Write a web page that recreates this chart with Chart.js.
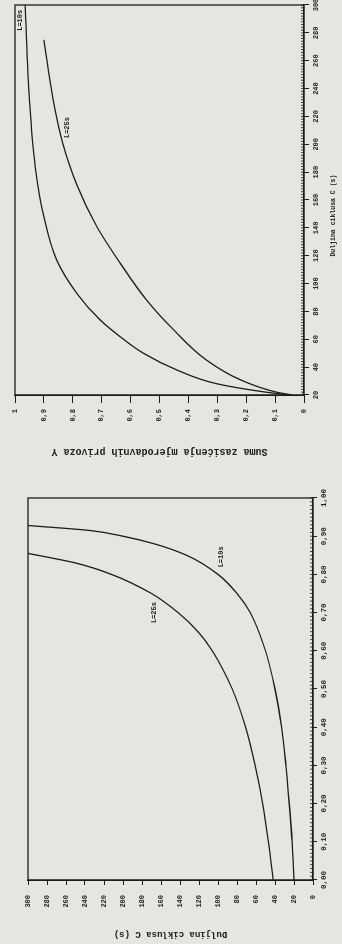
<!DOCTYPE html>
<html>
<head>
<meta charset="utf-8">
<script src="https://cdn.jsdelivr.net/npm/chart.js@4"></script>
<style>
  body { margin: 0; background: #e5e5e2; width: 342px; height: 944px; overflow: hidden; position: relative; }
  .rot { position: absolute; left: 0; transform-origin: 0 0; }
  #boxTop { top: 0; width: 465px; height: 342px; transform: translate(0, 465px) rotate(-90deg); }
  #boxBottom { top: 470px; width: 474px; height: 342px; transform: translate(0, 474px) rotate(-90deg); }
</style>
</head>
<body>
<div class="rot" id="boxTop"><canvas id="chartTop" width="465" height="342"></canvas></div>
<div class="rot" id="boxBottom"><canvas id="chartBottom" width="474" height="342"></canvas></div>
<script>
// gornji dijagram: Y ovisno o C
const topCycle10 = [20, 22, 28, 38, 50, 62, 74, 93, 117, 148, 184, 232, 300];
const topSat10 = [0.05, 0.13, 0.30, 0.44, 0.556, 0.637, 0.706, 0.786, 0.856, 0.900, 0.930, 0.950, 0.965];
const topCycle25 = [20, 22, 31, 45, 67, 88, 115, 141, 170, 201, 232, 275];
const topSat25 = [0.04, 0.094, 0.221, 0.337, 0.452, 0.544, 0.637, 0.717, 0.784, 0.835, 0.868, 0.900];

// donji dijagram: C ovisno o Y
const bottomSat10 = [0, 0.1, 0.2, 0.3, 0.4, 0.5, 0.6, 0.7, 0.75, 0.8, 0.85, 0.88, 0.9, 0.915, 0.928];
const bottomCycle10 = [20, 22, 25, 28.5, 33, 40, 50, 66, 80, 100, 133, 167, 200, 235, 300];
const bottomSat25 = [0, 0.1, 0.2, 0.3, 0.4, 0.5, 0.6, 0.65, 0.7, 0.75, 0.8, 0.83, 0.855];
const bottomCycle25 = [42, 47, 53, 61, 71, 85, 106, 121, 142, 170, 212, 250, 300];

const curveNames = ['L=10s', 'L=25s'];

const ink = '#1c1c1c';
const mono = '"Liberation Mono", "DejaVu Sans Mono", monospace';

function points(xs, ys) {
  return xs.map((x, i) => ({ x, y: ys[i] }));
}

function curve(label, data) {
  return {
    label, data,
    borderColor: ink, borderWidth: 1.3,
    pointRadius: 0, cubicInterpolationMode: 'monotone', fill: false
  };
}

function comma(v, digits) {
  return v.toFixed(digits).replace('.', ',');
}

// okvir, sitne crtice na osi x i oznake krivulja
const paperPlugin = {
  id: 'paper',
  afterDraw(chart, args, opts) {
    const { ctx, chartArea: a, scales } = chart;
    const sx = scales.x, sy = scales.y;
    ctx.save();
    ctx.strokeStyle = ink;
    ctx.lineWidth = 1.3;
    ctx.strokeRect(a.left, a.top, a.right - a.left, a.bottom - a.top);

    ctx.lineWidth = 0.8;
    ctx.beginPath();
    const n = Math.round((sx.max - sx.min) / opts.minorStep);
    for (let i = 0; i <= n; i++) {
      const px = sx.getPixelForValue(sx.min + i * opts.minorStep);
      ctx.moveTo(px, a.bottom);
      ctx.lineTo(px, a.bottom - 3);
    }
    ctx.stroke();

    ctx.fillStyle = ink;
    ctx.font = 'bold 7px ' + mono;
    ctx.textAlign = 'center';
    ctx.textBaseline = 'middle';
    opts.notes.forEach(note => {
      ctx.fillText(note.text, sx.getPixelForValue(note.x), sy.getPixelForValue(note.y));
    });
    ctx.restore();
  }
};

function tickFont(size) {
  return { family: mono, size, weight: 'bold' };
}

const chartTop = new Chart(document.getElementById('chartTop'), {
  type: 'line',
  data: {
    datasets: [
      curve(curveNames[0], points(topCycle10, topSat10)),
      curve(curveNames[1], points(topCycle25, topSat25))
    ]
  },
  options: {
    responsive: false,
    animation: false,
    layout: { padding: { left: 0, right: 5, top: 15, bottom: 0 } },
    plugins: {
      legend: { display: false },
      tooltip: { enabled: false },
      paper: {
        minorStep: 2,
        notes: [
          { text: curveNames[0], x: 289, y: 0.983 },
          { text: curveNames[1], x: 212, y: 0.82 }
        ]
      }
    },
    scales: {
      x: {
        type: 'linear', min: 20, max: 300,
        border: { display: true, color: ink, width: 1.3 },
        grid: { drawOnChartArea: false, tickLength: 5, color: ink },
        ticks: { stepSize: 20, maxRotation: 0, padding: 3, color: ink, font: tickFont(7) },
        title: {
          // naslov u originalu stoji malo ulijevo od sredine osi
          display: true, text: 'Duljina ciklusa C (s)'.padEnd(29, ' '), color: ink,
          font: tickFont(6.5), padding: { top: 0, bottom: 5 }
        },
        afterFit(s) { s.height = 38; s.paddingLeft = 0; s.paddingRight = 0; }
      },
      y: {
        type: 'linear', min: 0, max: 1,
        border: { display: true, color: ink, width: 1.3 },
        grid: { drawOnChartArea: false, tickLength: 8, color: ink },
        ticks: {
          stepSize: 0.1, padding: 6, color: ink, font: tickFont(7),
          callback: v => (v === 0 || v === 1) ? String(v) : comma(v, 1)
        },
        title: {
          display: true, text: 'Suma zasićenja mjerodavnih privoza Y', color: ink,
          font: tickFont(10), padding: { top: 7, bottom: 0 }
        },
        afterFit(s) { s.width = 70; s.paddingTop = 0; s.paddingBottom = 0; }
      }
    }
  },
  plugins: [paperPlugin]
});

const chartBottom = new Chart(document.getElementById('chartBottom'), {
  type: 'line',
  data: {
    datasets: [
      curve(curveNames[0], points(bottomSat10, bottomCycle10)),
      curve(curveNames[1], points(bottomSat25, bottomCycle25))
    ]
  },
  options: {
    responsive: false,
    animation: false,
    layout: { padding: { left: 0, right: 28, top: 28, bottom: 0 } },
    plugins: {
      legend: { display: false },
      tooltip: { enabled: false },
      paper: {
        minorStep: 0.01,
        notes: [
          { text: curveNames[0], x: 0.846, y: 97 },
          { text: curveNames[1], x: 0.70, y: 167 }
        ]
      }
    },
    scales: {
      x: {
        type: 'linear', min: 0, max: 1,
        border: { display: true, color: ink, width: 1.3 },
        grid: { drawOnChartArea: false, tickLength: 4, color: ink },
        ticks: {
          stepSize: 0.1, maxRotation: 0, padding: 3, color: ink, font: tickFont(7.5),
          callback: v => comma(v, 2)
        },
        afterFit(s) { s.height = 29; s.paddingLeft = 0; s.paddingRight = 0; }
      },
      y: {
        type: 'linear', min: 0, max: 300,
        border: { display: true, color: ink, width: 1.3 },
        grid: { drawOnChartArea: false, tickLength: 5, color: ink },
        ticks: { stepSize: 20, padding: 10, color: ink, font: tickFont(7) },
        title: {
          display: true, text: 'Duljina ciklusa C (s)', color: ink,
          font: tickFont(9), padding: { top: 4, bottom: 0 }
        },
        afterFit(s) { s.width = 64; s.paddingTop = 0; s.paddingBottom = 0; }
      }
    }
  },
  plugins: [paperPlugin]
});
</script>
</body>
</html>
